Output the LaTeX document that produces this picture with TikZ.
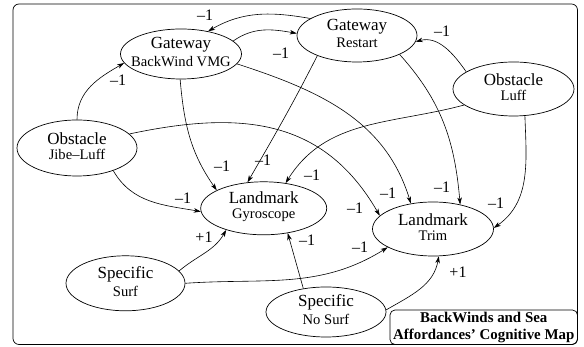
\documentclass[tikz,border=0pt]{standalone}
\usepackage{fontspec}
\setmainfont{Liberation Serif}
\usetikzlibrary{shapes.geometric,arrows.meta}
\newcommand\bigf{\fontsize{17}{20}\selectfont}
\newcommand\smf{\fontsize{14.6}{17}\selectfont}
\begin{document}
\begin{tikzpicture}[x=1pt,y=1pt,
  ell/.style={ellipse,draw,line width=0.7pt,inner sep=0pt},
  txt/.style={align=center,inner sep=0pt,yshift=2pt},
  arr/.style={line width=0.6pt,-{Stealth[length=7pt,width=4.5pt,inset=2pt]}},
  wt/.style={font=\fontsize{16}{18}\selectfont,inner sep=0pt}]
\useasboundingbox (0,0) rectangle (584,347);
\draw[rounded corners=6pt,line width=0.7pt] (13,2.5) rectangle (577.5,343);
% nodes
\node[ell,minimum width=121pt,minimum height=50pt,label={[txt]center:{\bigf Gateway\\[3pt]\smf BackWind VMG}}] (vmg) at (181,293) {};
\node[ell,minimum width=120pt,minimum height=53pt,label={[txt]center:{\bigf Gateway\\[3pt]\smf Restart}}] (restart) at (357,311.5) {};
\node[ell,minimum width=121pt,minimum height=54pt,label={[txt]center:{\bigf Obstacle\\[3pt]\smf Luff}}] (luff) at (513.5,258) {};
\node[ell,minimum width=120pt,minimum height=56pt,label={[txt]center:{\bigf Obstacle\\[3pt]\smf Jibe–Luff}}] (jibe) at (77,199) {};
\node[ell,minimum width=126pt,minimum height=53pt,label={[txt]center:{\bigf Landmark\\[3pt]\smf Gyroscope}}] (gyro) at (263.7,138.7) {};
\node[ell,minimum width=121pt,minimum height=54pt,label={[txt]center:{\bigf Landmark\\[3pt]\smf Trim}}] (trim) at (433,118) {};
\node[ell,minimum width=119pt,minimum height=55pt,label={[txt]center:{\bigf Specific\\[3pt]\smf Surf}}] (surf) at (125.5,63.7) {};
\node[ell,minimum width=120pt,minimum height=50pt,label={[txt]center:{\bigf Specific\\[3pt]\smf No Surf}}] (nosurf) at (326,35) {};
\node[draw,rounded corners=5pt,line width=0.7pt,minimum width=187.5pt,minimum height=34.5pt,align=center,inner sep=0pt,
  font=\bfseries\fontsize{14.9}{16.6}\selectfont] (title) at (483.75,19.75) {BackWinds and Sea\\Affordances’ Cognitive Map};
% edges
\draw[arr] (restart.160) to[out=170,in=30] (vmg.40);
\draw[arr] (vmg.14) to[out=35,in=170] (restart.178);
\draw[arr] (jibe.90) to[out=90,in=210] (vmg.189);
\draw[arr] (vmg.268) to[out=-85,in=125] (gyro.159);
\draw[arr] (restart.207) to[out=243,in=60] (gyro.122);
\draw[arr] (luff.198) to[out=195,in=58] (gyro.49);
\draw[arr] (vmg.350) to[out=-18,in=107] (trim.131);
\draw[arr] (restart.336) to[out=-48,in=95] (trim.42);
\draw[arr] (luff.293) to[out=-88,in=35] (trim.1);
\draw[arr] (luff.160) to[out=125,in=15] (restart.354);
\draw[arr] (jibe.328) to[out=-60,in=170] (gyro.183);
\draw[arr] (jibe.15) to[out=12,in=120,looseness=1.1] (trim.166);
\draw[arr] (surf.13) to[out=40,in=240] (gyro.210);
\draw[arr] (surf.0) to[out=4,in=212] (trim.202);
\draw[arr] (nosurf.134) -- (gyro.314);
\draw[arr] (nosurf.2) to[out=30,in=260] (trim.282);
% weights
\node[wt] at (205,332) {–1};
\node[wt] at (281,294) {–1};
\node[wt] at (118,267) {–1};
\node[wt] at (222,181) {–1};
\node[wt] at (263,187) {–1};
\node[wt] at (312,172) {–1};
\node[wt] at (388,154) {–1};
\node[wt] at (442,160) {–1};
\node[wt] at (496,144) {–1};
\node[wt] at (442,316) {–1};
\node[wt] at (183,149) {–1};
\node[wt] at (355,139) {–1};
\node[wt] at (204,110) {+1};
\node[wt] at (360,100) {–1};
\node[wt] at (307,107) {–1};
\node[wt] at (458,75) {+1};
\end{tikzpicture}
\end{document}
